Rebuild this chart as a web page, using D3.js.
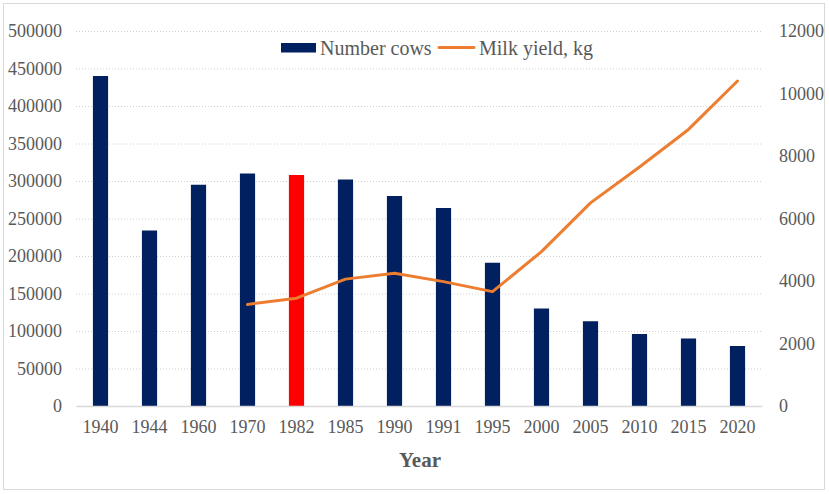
<!DOCTYPE html>
<html>
<head>
<meta charset="utf-8">
<script src="https://cdn.jsdelivr.net/npm/d3@7"></script>
<style>
  body { margin: 0; background: #fff; }
  svg { font-family: "Liberation Serif", "Times New Roman", serif; }
</style>
</head>
<body>
<div id="chart"></div>
<script>
// data
var years = ["1940","1944","1960","1970","1982","1985","1990","1991","1995","2000","2005","2010","2015","2020"];
var cows = [440000, 234000, 295000, 310000, 308000, 302000, 280000, 264000, 191000, 130000, 113000, 96000, 90000, 80000];
var milk = [null, null, null, 3250, 3450, 4060, 4250, 3980, 3660, 4940, 6500, 7650, 8850, 10400];
var leftTicks = [0, 50000, 100000, 150000, 200000, 250000, 300000, 350000, 400000, 450000, 500000];
var rightTicks = [0, 2000, 4000, 6000, 8000, 10000, 12000];
var highlight = "1982";

var W = 829, H = 494;
var margin = {top: 31, right: 67, bottom: 88, left: 76},
    width = W - margin.left - margin.right,
    height = H - margin.top - margin.bottom;

var svg = d3.select("#chart")
  .append("svg")
    .attr("width", W)
    .attr("height", H);

// outer frame
svg.append("rect")
  .attr("x", 3.5).attr("y", 3.5)
  .attr("width", 821).attr("height", 486)
  .attr("fill", "#fff")
  .attr("stroke", "#d9d9d9");

var g = svg.append("g")
  .attr("transform", "translate(" + margin.left + "," + margin.top + ")");

var x = d3.scaleBand()
  .domain(years)
  .range([0, width])
  .paddingInner(0.69)
  .paddingOuter(0.345);

var y = d3.scaleLinear().domain([0, 500000]).range([height, 0]);
var y2 = d3.scaleLinear().domain([0, 12000]).range([height, 0]);

// gridlines
g.append("g")
  .selectAll("line")
  .data(leftTicks.slice(1))
  .enter().append("line")
    .attr("x1", 0).attr("x2", width)
    .attr("y1", function(d) { return y(d) + 0.5; })
    .attr("y2", function(d) { return y(d) + 0.5; })
    .attr("stroke", "#d0d0d0")
    .attr("stroke-width", 1)
    .attr("stroke-dasharray", "1,2");

// left axis
var ax = g.append("g")
  .call(d3.axisLeft(y).tickValues(leftTicks).tickSize(0).tickPadding(14).tickFormat(d3.format("d")));
ax.select(".domain").remove();
ax.selectAll("text").attr("fill", "#595959").style("font-size", "18px").style("font-family", "Liberation Serif");

// right axis
var ax2 = g.append("g")
  .attr("transform", "translate(" + width + ",0)")
  .call(d3.axisRight(y2).tickValues(rightTicks).tickSize(0).tickPadding(17).tickFormat(d3.format("d")));
ax2.select(".domain").remove();
ax2.selectAll("text").attr("fill", "#595959").style("font-size", "18px").style("font-family", "Liberation Serif");

// bars
g.append("g")
  .selectAll("rect")
  .data(years)
  .enter().append("rect")
    .attr("x", function(d) { return x(d); })
    .attr("width", x.bandwidth())
    .attr("y", function(d, i) { return y(cows[i]); })
    .attr("height", function(d, i) { return height - y(cows[i]); })
    .attr("fill", function(d) { return d === highlight ? "#ff0000" : "#002060"; });

// bottom axis
var xa = g.append("g")
  .attr("transform", "translate(0," + height + ")")
  .call(d3.axisBottom(x).tickSize(0).tickPadding(14));
xa.select(".domain").attr("stroke", "#d9d9d9").attr("stroke-width", 1.5);
xa.selectAll("text").attr("fill", "#595959").style("font-size", "18px").style("font-family", "Liberation Serif");

// milk yield line
var line = d3.line()
  .defined(function(d) { return d != null; })
  .x(function(d, i) { return x(years[i]) + x.bandwidth() / 2; })
  .y(function(d) { return y2(d); });

g.append("path")
  .datum(milk)
  .attr("fill", "none")
  .attr("stroke", "#ed7d31")
  .attr("stroke-width", 3)
  .attr("stroke-linejoin", "round")
  .attr("stroke-linecap", "round")
  .attr("d", line);

// axis title
svg.append("text")
  .attr("x", 420)
  .attr("y", 467)
  .attr("text-anchor", "middle")
  .attr("fill", "#595959")
  .style("font-size", "21px")
  .style("font-weight", "bold")
  .text("Year");

// legend
var leg = svg.append("g");
leg.append("rect")
  .attr("x", 281).attr("y", 43)
  .attr("width", 35).attr("height", 9.5)
  .attr("fill", "#002060");
leg.append("text")
  .attr("x", 320).attr("y", 55)
  .attr("fill", "#595959")
  .style("font-size", "20px")
  .text("Number cows");
leg.append("line")
  .attr("x1", 439).attr("x2", 474)
  .attr("y1", 47.5).attr("y2", 47.5)
  .attr("stroke", "#ed7d31")
  .attr("stroke-width", 3)
  .attr("stroke-linecap", "round");
leg.append("text")
  .attr("x", 479).attr("y", 55)
  .attr("fill", "#595959")
  .style("font-size", "20px")
  .text("Milk yield, kg");
</script>
</body>
</html>
